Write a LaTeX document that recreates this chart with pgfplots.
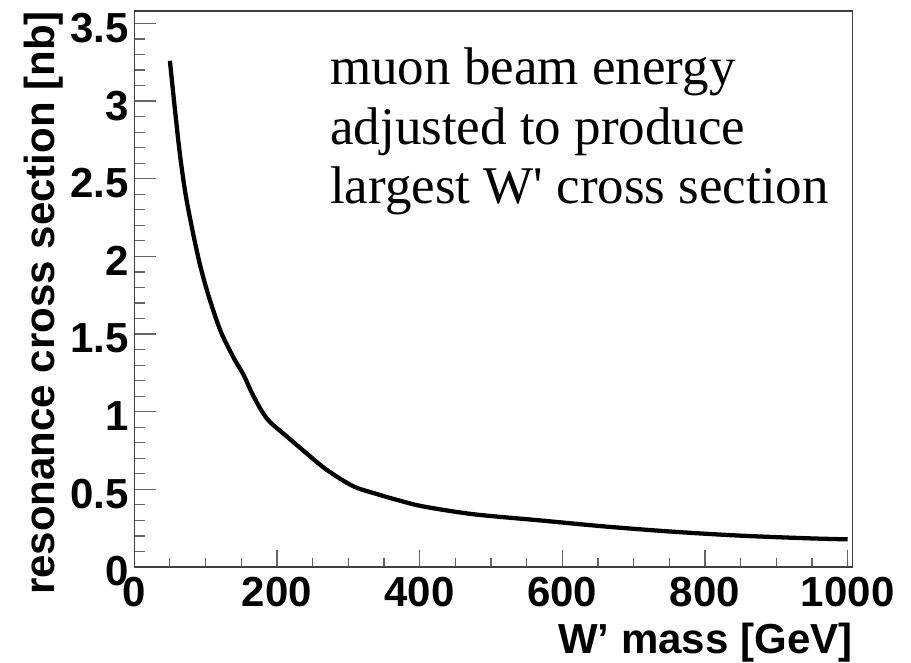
\documentclass[border=0pt]{standalone}
\usepackage{fontspec}
\usepackage{pgfplots}
\pgfplotsset{compat=1.18}
\setmainfont{Liberation Serif}
\newfontfamily\annotfont{Liberation Serif}[Ligatures=TeXOff]
\newfontfamily\lsans{Liberation Sans}
\newcommand{\lab}{\lsans\bfseries\fontsize{31.5pt}{36pt}\selectfont}
\newcommand{\ann}{\annotfont\fontsize{39.75pt}{44.8pt}\selectfont}
\begin{document}
\begin{tikzpicture}
\useasboundingbox (-100.65pt,-71.25pt) rectangle (582.6pt,425.25pt);
\begin{axis}[
  scale only axis,
  width=538.875pt, height=417pt,
  xmin=0, xmax=1007, ymin=0, ymax=3.58,
  axis line style={draw=black!75, line width=1pt},
  tick align=inside,
  xtick pos=bottom, ytick pos=left,
  xtick={0,200,400,600,800,1000},
  ytick={0,0.5,1,1.5,2,2.5,3,3.5},
  minor x tick num=3, minor y tick num=4,
  every tick/.style={draw=black!60, line width=0.9pt},
  xtick style={/pgfplots/major tick length=12.75pt,/pgfplots/minor tick length=6.75pt},
  ytick style={/pgfplots/major tick length=16.5pt,/pgfplots/minor tick length=8.25pt},
  /pgf/number format/assume math mode=true,
  /pgf/number format/1000 sep={},
  ticklabel style={font=\lab, inner sep=0pt},
  xticklabel style={yshift=-7.3pt},
  yticklabel style={xshift=-3.7pt, yshift=-3.4pt},
  xlabel={W’ mass [GeV]},
  ylabel={resonance cross section [nb]},
  label style={font=\lab, inner sep=0pt},
  xlabel style={at={(axis description cs:1,0)}, anchor=base east, yshift=-64.5pt},
  ylabel style={at={(axis description cs:0,1)}, anchor=base east, yshift=60pt},
]
\addplot[black, line width=3.2pt, smooth, tension=0.5] coordinates {
(50,3.26) (57,2.95) (64,2.66) (72,2.40) (82,2.16) (92,1.95) (104,1.75)
(121,1.52) (139,1.35) (153,1.24) (165,1.12) (178,1.01) (190,0.935)
(214,0.84) (242,0.73) (270,0.625) (307,0.52) (340,0.47) (370,0.43)
(405,0.39) (475,0.34) (569,0.30) (662,0.26) (756,0.227) (849,0.202)
(943,0.185) (1000,0.178)
};
\node[anchor=base west, inner sep=0pt, font=\ann] at (axis cs:274.4,3.106) {muon beam energy};
\node[anchor=base west, inner sep=0pt, font=\ann] at (axis cs:274.4,2.719) {adjusted to produce};
\node[anchor=base west, inner sep=0pt, font=\ann] at (axis cs:274.4,2.339) {largest W' cross section};
\end{axis}
\end{tikzpicture}
\end{document}
